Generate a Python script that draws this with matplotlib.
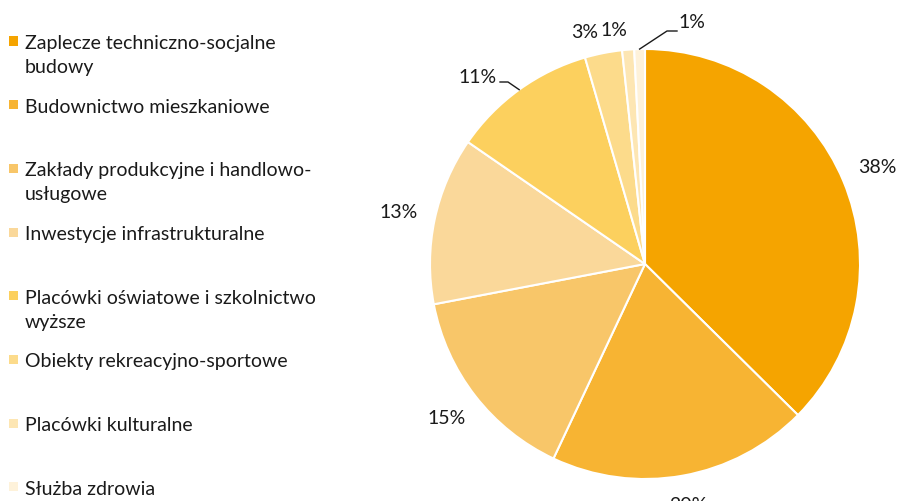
import numpy as np
import matplotlib
matplotlib.use("Agg")
import matplotlib.pyplot as plt
from matplotlib.patches import Rectangle

plt.rcParams['font.family'] = ['Lato', 'DejaVu Sans']

# data
categories = [
    "Zaplecze techniczno-socjalne\nbudowy",
    "Budownictwo mieszkaniowe",
    "Zakłady produkcyjne i handlowo-\nusługowe",
    "Inwestycje infrastrukturalne",
    "Placówki oświatowe i szkolnictwo\nwyższe",
    "Obiekty rekreacyjno-sportowe",
    "Placówki kulturalne",
    "Służba zdrowia",
]
shares = [37.4, 19.6, 15.0, 12.6, 10.9, 2.8, 0.9, 0.8]
pct_labels = ["38%", "20%", "15%", "13%", "11%", "3%", "1%", "1%"]
colors = ["#F5A400", "#F7B433", "#F8C669", "#FAD89A", "#FCD05E",
          "#FCDB8B", "#FDE6B3", "#FEF2DA"]

W, H = 898, 501
FS = 14
TXT = "#1a1a1a"
fig = plt.figure(figsize=(W / 100, H / 100), dpi=100)

# pie: center (645, 264) px, radius 215 px
R = 215.0
cx, cy = 645, 264
half = 250
ax = fig.add_axes([(cx - half) / W, (H - cy - half) / H, 2 * half / W, 2 * half / H])
wedges, _ = ax.pie(shares, colors=colors, startangle=90, counterclock=False,
                   radius=1, wedgeprops=dict(edgecolor="white", linewidth=1.5))
ax.set_xlim(-half / R, half / R)
ax.set_ylim(-half / R, half / R)
ax.set_aspect("equal")
ax.axis("off")


def px(x, y):
    return ((x - cx) / R, (cy - y) / R)


# labels: big slices placed outside along the mid angle
label_r = [1.17, 1.14, 1.17, 1.17]
for i, w in enumerate(wedges[:4]):
    mid = np.deg2rad((w.theta1 + w.theta2) / 2)
    r = label_r[i]
    ax.text(r * np.cos(mid), r * np.sin(mid), pct_labels[i], fontsize=FS,
            ha="center", va="center", color=TXT, clip_on=False)

# small slices: manual placement with leader lines
mid4 = np.deg2rad((wedges[4].theta1 + wedges[4].theta2) / 2)
e4 = (np.cos(mid4), np.sin(mid4))
ax.plot([e4[0], px(508, 82)[0], px(500, 82)[0]],
        [e4[1], px(508, 82)[1], px(500, 82)[1]], color=TXT, lw=1)
ax.text(*px(478, 77), pct_labels[4], fontsize=FS, ha="center", va="center", color=TXT)
ax.text(*px(585, 32), pct_labels[5], fontsize=FS, ha="center", va="center", color=TXT)
ax.text(*px(614, 30), pct_labels[6], fontsize=FS, ha="center", va="center", color=TXT)
mid7 = np.deg2rad((wedges[7].theta1 + wedges[7].theta2) / 2)
e7 = (np.cos(mid7), np.sin(mid7))
ax.plot([e7[0], px(667, 31)[0], px(677, 31)[0]],
        [e7[1], px(667, 31)[1], px(677, 31)[1]], color=TXT, lw=1)
ax.text(*px(692, 22), pct_labels[7], fontsize=FS, ha="center", va="center", color=TXT)

# legend drawn by hand, one text per line
for i, (lab, col) in enumerate(zip(categories, colors)):
    base = 49 + i * 63.7
    fig.patches.append(Rectangle((9 / W, (H - base + 3.5) / H), 9 / W, 9 / H,
                                 transform=fig.transFigure, facecolor=col,
                                 edgecolor="none"))
    for k, line in enumerate(lab.split("\n")):
        fig.text(25 / W, (H - base - 24 * k) / H, line, fontsize=FS, ha="left",
                 va="baseline", color=TXT)

fig.savefig("out.png", dpi=100)
